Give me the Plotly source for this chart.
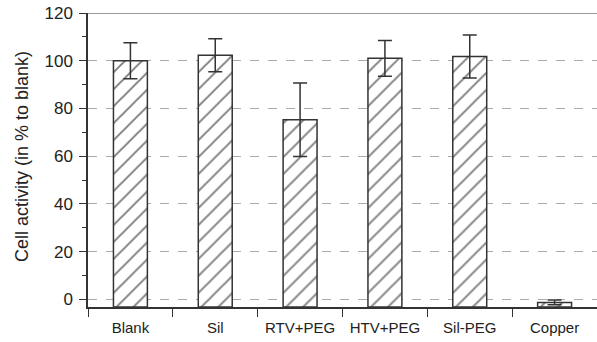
import plotly.graph_objects as go

categories = ["Blank", "Sil", "RTV+PEG", "HTV+PEG", "Sil-PEG", "Copper"]
values = [100.0, 102.3, 75.3, 101.0, 101.8, -1.3]
errors = [7.5, 6.9, 15.4, 7.5, 9.0, 1.0]
y_ticks = [0, 20, 40, 60, 80, 100, 120]
y_title = "Cell activity (in % to blank)"
Y_MIN, Y_MAX = -3.2, 120

fig = go.Figure()
fig.add_trace(go.Bar(
    x=categories,
    y=[v - Y_MIN for v in values],
    base=Y_MIN,
    width=0.4,
    marker=dict(
        color="white",
        line=dict(color="#333333", width=1.5),
        pattern=dict(shape="/", fgcolor="#000000", bgcolor="white", size=12, solidity=0.16),
    ),
    error_y=dict(type="data", array=errors, visible=True, color="#333333", thickness=1.5, width=7),
    showlegend=False,
))

fig.add_shape(type="line", xref="paper", x0=0, x1=1, yref="y", y0=Y_MAX, y1=Y_MAX,
              line=dict(color="#777777", width=1.5), layer="below")

fig.add_annotation(text=y_title, textangle=-90, xref="paper", yref="paper",
                   x=-(88 - 22) / 509, y=(307 - 157) / 294, xanchor="center", yanchor="middle",
                   showarrow=False, font=dict(size=18))

font = dict(family="Liberation Sans, Arial, sans-serif", size=16, color="#222222")
fig.update_layout(
    width=597, height=342,
    margin=dict(l=88, r=0, t=13, b=35),
    paper_bgcolor="white", plot_bgcolor="white",
    font=font,
    bargap=0.6,
    xaxis=dict(
        type="category", automargin=False,
        showline=True, linecolor="#333333", linewidth=1.5,
        ticks="outside", ticklen=8, tickcolor="#333333", tickwidth=1.2,
        tickson="boundaries", showgrid=False, zeroline=False,
        tickfont=dict(size=15), ticklabelstandoff=6,
    ),
    yaxis=dict(
        range=[Y_MIN, Y_MAX], automargin=False,
        tickvals=y_ticks, ticklabeloverflow="allow", ticklabelstandoff=3,
        showline=True, linecolor="#333333", linewidth=1.5,
        ticks="outside", ticklen=7, tickcolor="#333333", tickwidth=1.2,
        minor=dict(dtick=10, tick0=0, ticks="outside", ticklen=4, tickcolor="#333333", showgrid=False),
        showgrid=True, gridcolor="#aaaaaa", griddash="dash", gridwidth=1,
        zeroline=False,
        tickfont=dict(size=17),
    ),
)

fig.write_html("out.html", config={"displayModeBar": False},
               post_script="document.body.style.margin='0';")
